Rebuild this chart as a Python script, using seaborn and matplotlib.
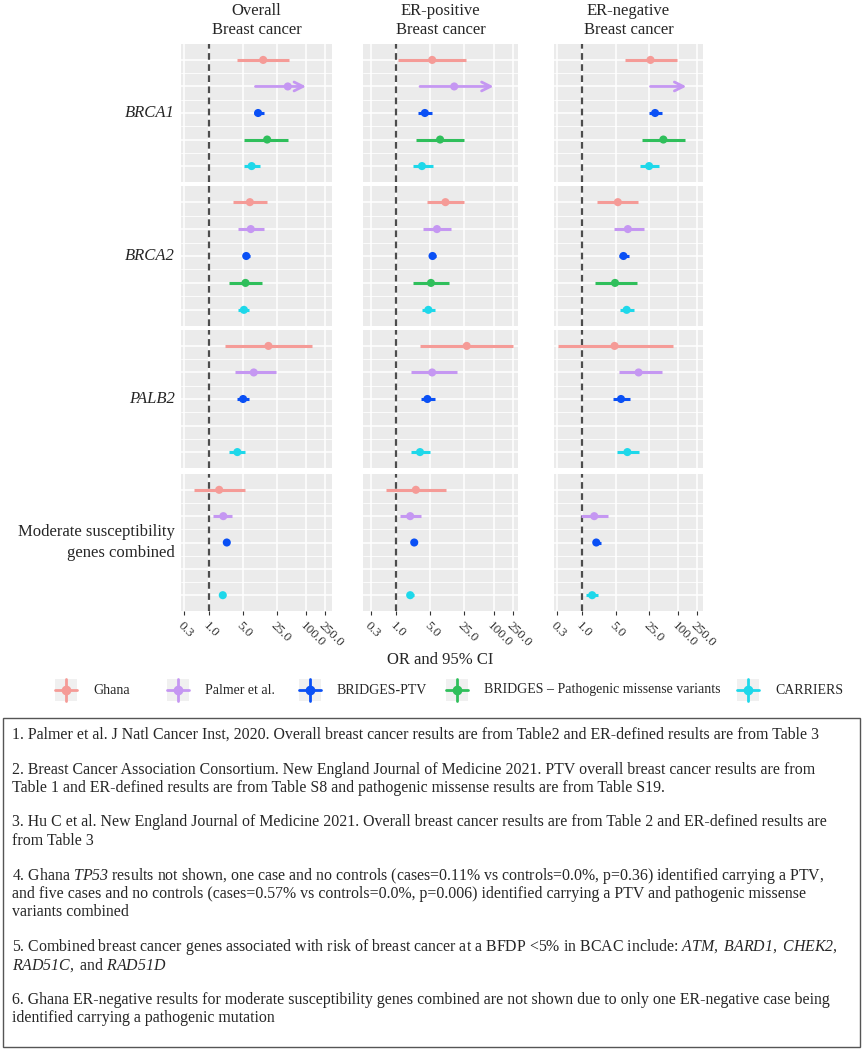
import numpy as np
import pandas as pd
import seaborn as sns
import matplotlib.pyplot as plt
from matplotlib.patches import Rectangle
from matplotlib.ticker import NullLocator

nan = np.nan

subtypes = ['Overall\nBreast cancer', 'ER-positive\nBreast cancer', 'ER-negative\nBreast cancer']
genes = ['BRCA1', 'BRCA2', 'PALB2', 'Moderate susceptibility\ngenes combined']
studies = ['Ghana', 'Palmer et al.', 'BRIDGES-PTV',
           'BRIDGES \u2013 Pathogenic missense variants', 'CARRIERS']
study_colors = ['#F59B97', '#C597F2', '#0A50F5', '#2FBF5B', '#1ED8EA']

# odds ratios with 95% CI, rows = genes, columns = studies
overall_or = [[13.0, 41.9, 10.2, 15.7, 7.5],
              [6.9, 7.2, 5.8, 5.6, 5.2],
              [16.7, 8.3, 5.0, nan, 3.8],
              [1.6, 1.95, 2.3, nan, 1.9]]
overall_lo = [[3.8, 9.0, 8.2, 5.3, 5.3],
              [3.1, 4.0, 4.9, 2.6, 4.0],
              [2.1, 3.4, 3.7, nan, 2.6],
              [0.49, 1.2, 2.15, nan, 1.8]]
overall_hi = [[45.3, 100, 13.6, 43.2, 11.1],
              [15.5, 13.8, 6.9, 12.2, 6.6],
              [135, 24.5, 6.7, nan, 5.6],
              [5.6, 3.0, 2.45, nan, 2.0]]

erpos_or = [[5.5, 15.6, 3.9, 8.0, 3.4],
            [10.3, 6.9, 5.6, 5.2, 4.6],
            [28.1, 5.5, 4.4, nan, 3.1],
            [2.55, 1.95, 2.36, nan, 1.95]]
erpos_lo = [[1.08, 3.1, 2.8, 2.6, 2.2],
            [4.3, 3.6, 4.7, 2.25, 3.45],
            [3.1, 2.0, 3.3, nan, 2.0],
            [0.63, 1.23, 2.25, nan, 1.7]]
erpos_hi = [[27.6, 100, 5.4, 24.3, 5.6],
            [25.1, 13.7, 6.6, 12.1, 6.2],
            [250, 17.4, 6.2, nan, 5.0],
            [10.5, 3.2, 2.5, nan, 2.3]]

erneg_or = [[26.4, nan, 32.9, 49.0, 24.7],
            [5.5, 8.9, 7.2, 4.8, 8.4],
            [4.7, 14.9, 6.4, nan, 8.7],
            [nan, 1.77, 1.95, nan, 1.6]]
erneg_lo = [[7.6, 26.4, 24.7, 17.7, 16.1],
            [2.0, 4.6, 5.7, 1.8, 6.0],
            [0.31, 5.7, 4.4, nan, 5.4],
            [nan, 0.94, 1.7, nan, 1.2]]
erneg_hi = [[94, 148, 45, 137, 39],
            [14.2, 18.9, 9.4, 13.7, 11.9],
            [76, 45, 9.8, nan, 14.9],
            [nan, 3.5, 2.4, nan, 2.1]]

# upper CI truncated, drawn as an arrow: (subtype, gene, study)
truncated = [(0, 0, 1), (1, 0, 1), (2, 0, 1)]

x_ticks = [0.3, 1.0, 5.0, 25.0, 100.0, 250.0]
x_ticklabels = ['0.3', '1.0', '5.0', '25.0', '100.0', '250.0']

notes = [
    ["1. Palmer et al. J Natl Cancer Inst, 2020. Overall breast cancer results are from Table2 and ER-defined results are from Table 3"],
    ["2. Breast Cancer Association Consortium. New England Journal of Medicine 2021. PTV overall breast cancer results are from",
     "Table 1 and ER-defined results are from Table S8 and pathogenic missense results are from Table S19."],
    ["3. Hu C et al. New England Journal of Medicine 2021. Overall breast cancer results are from Table 2 and ER-defined results are",
     "from Table 3"],
    ["4. Ghana $TP53$ results not shown, one case and no controls (cases=0.11% vs controls=0.0%, p=0.36) identified carrying a PTV,",
     "and five cases and no controls (cases=0.57% vs controls=0.0%, p=0.006) identified carrying a PTV and pathogenic missense",
     "variants combined"],
    ["5. Combined breast cancer genes associated with risk of breast cancer at a BFDP <5% in BCAC include: $ATM,$ $BARD1,$ $CHEK2,$",
     "$RAD51C,$ and $RAD51D$"],
    ["6. Ghana ER-negative results for moderate susceptibility genes combined are not shown due to only one ER-negative case being",
     "identified carrying a pathogenic mutation"],
]

# long table
rows = []
tables = [(overall_or, overall_lo, overall_hi),
          (erpos_or, erpos_lo, erpos_hi),
          (erneg_or, erneg_lo, erneg_hi)]
for s, (o, l, h) in enumerate(tables):
    for g in range(len(genes)):
        for k in range(len(studies)):
            rows.append(dict(subtype=s, gene=g, study=studies[k], pos=k,
                             OR=o[g][k], lo=l[g][k], hi=h[g][k]))
df = pd.DataFrame(rows)
palette = dict(zip(studies, study_colors))

sns.set_theme(style='darkgrid', rc={'axes.facecolor': '#EBEBEB'})
plt.rcParams['font.family'] = ['Liberation Serif', 'DejaVu Serif']
# math text is only used for the italic gene names in the notes
plt.rcParams['mathtext.fontset'] = 'custom'
plt.rcParams['mathtext.rm'] = 'Liberation Serif:italic'
plt.rcParams['mathtext.it'] = 'Liberation Serif:italic'

W, H = 863, 1050
fig = plt.figure(figsize=(W / 100, H / 100), dpi=100)

col_px = [(181, 332), (363, 518), (554, 703)]
row_px = [(44, 182), (186, 326), (330, 468), (474, 611)]
xlims = [(0.26, 344), (0.21, 317), (0.256, 329)]

for c in range(3):
    for r in range(4):
        x0, x1 = col_px[c]
        y0, y1 = row_px[r]
        ax = fig.add_axes([x0 / W, 1 - y1 / H, (x1 - x0) / W, (y1 - y0) / H])
        sub = df[(df.subtype == c) & (df.gene == r)].dropna(subset=['lo'])
        ax.axvline(1.0, color='#4D4D4D', ls=(0, (3, 2)), lw=1.6, zorder=2)
        for _, row in sub.iterrows():
            col = palette[row.study]
            if (c, r, row.pos) in truncated:
                ax.annotate('', xy=(row.hi, row.pos), xytext=(row.lo, row.pos),
                            arrowprops=dict(arrowstyle='->', color=col, lw=2,
                                            mutation_scale=16, shrinkA=0, shrinkB=0),
                            zorder=3)
            else:
                ax.hlines(row.pos, row.lo, row.hi, colors=col, lw=2.2, zorder=3)
        sns.scatterplot(data=sub.dropna(subset=['OR']), x='OR', y='pos', hue='study',
                        palette=palette, ax=ax, s=34, legend=False,
                        edgecolor='none', zorder=4)
        ax.set_xscale('log')
        ax.set_xlim(xlims[c])
        ax.set_ylim(4.6, -0.6)
        ax.set_xticks(x_ticks)
        ax.xaxis.set_minor_locator(NullLocator())
        ax.set_yticks(range(5))
        ax.set_yticks([0.5, 1.5, 2.5, 3.5], minor=True)
        ax.set_yticklabels([])
        ax.grid(which='major', color='white', lw=1.1)
        ax.grid(which='minor', axis='y', color='white', lw=0.6)
        ax.set_xlabel('')
        ax.set_ylabel('')
        for sp in ax.spines.values():
            sp.set_visible(False)
        ax.tick_params(axis='y', which='both', left=False, length=0)
        if r == 3:
            ax.set_xticklabels(x_ticklabels, rotation=-45, ha='left', va='top',
                               rotation_mode='anchor', fontsize=9.5, color='#333333')
            ax.tick_params(axis='x', bottom=True, length=3, width=0.8,
                           color='#333333', pad=3)
        else:
            ax.set_xticklabels([])
            ax.tick_params(axis='x', bottom=False)

# overlay in pixel coordinates for texts, legend and notes
ov = fig.add_axes([0, 0, 1, 1], facecolor='none')
ov.set_xlim(0, W)
ov.set_ylim(H, 0)
ov.axis('off')

for c, title in enumerate(subtypes):
    cx = (col_px[c][0] + col_px[c][1]) / 2
    for i, line in enumerate(title.split('\n')):
        ov.text(cx, 11 + 19 * i, line, ha='center', va='center', fontsize=12)

for r, gene in enumerate(genes):
    cy = (row_px[r][0] + row_px[r][1]) / 2
    lines = gene.split('\n')
    for i, line in enumerate(lines):
        yy = cy + (i - (len(lines) - 1) / 2) * 21
        ov.text(175, yy, line, ha='right', va='center', fontsize=12,
                style='italic' if len(lines) == 1 else 'normal')

ov.text(440, 660, 'OR and 95% CI', ha='center', va='center', fontsize=12)

key_x = [66, 178, 310, 457, 748]
for k, name in enumerate(studies):
    kx, ky = key_x[k], 690
    ov.add_patch(Rectangle((kx - 11, ky - 11), 22, 22, facecolor='#F0F0F0',
                           edgecolor='none'))
    ov.plot([kx - 11, kx + 11], [ky, ky], color=study_colors[k], lw=2)
    ov.plot([kx, kx], [ky - 11, ky + 11], color=study_colors[k], lw=2)
    ov.plot(kx, ky, 'o', color=study_colors[k], ms=6)
    ov.text(kx + 27, ky, name, ha='left', va='center', fontsize=10)

ov.add_patch(Rectangle((3, 718), 857, 329, facecolor='none',
                       edgecolor='#555555', lw=1))
y = 735
for item in notes:
    for line in item:
        ov.text(12, y, line, ha='left', va='center', fontsize=11.4)
        y += 18.5
    y += 16

fig.savefig('out.png', dpi=100)
